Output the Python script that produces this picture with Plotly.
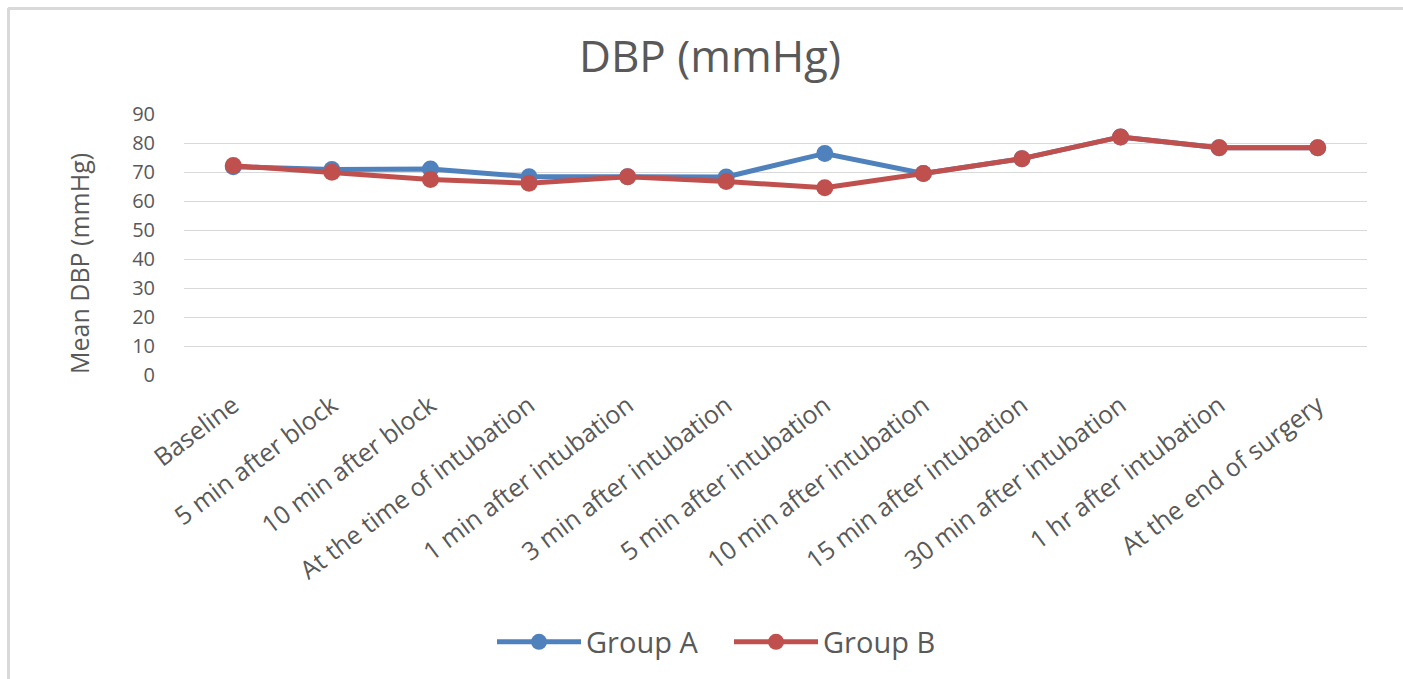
import plotly.graph_objects as go

# Time points of the measurement
time_points = [
    "Baseline",
    "5 min after block",
    "10 min after block",
    "At the time of intubation",
    "1 min after intubation",
    "3 min after intubation",
    "5 min after intubation",
    "10 min after intubation",
    "15 min after intubation",
    "30 min after intubation",
    "1 hr after intubation",
    "At the end of surgery",
]

# Mean diastolic blood pressure (mmHg)
group_a = [71.8, 70.9, 71.0, 68.4, 68.4, 68.3, 76.4, 69.5, 74.6, 82.1, 78.4, 78.4]
group_b = [72.2, 69.9, 67.4, 66.1, 68.4, 66.7, 64.6, 69.5, 74.6, 82.1, 78.4, 78.4]

y_ticks = [0, 10, 20, 30, 40, 50, 60, 70, 80, 90]

FONT = "Open Sans"
GREY = "#595959"
BLUE = "#4F81BD"
RED = "#C0504D"

W, H = 1403, 679
ML, MR, MT, MB = 184, 36, 114, 304
PW, PH = W - ML - MR, H - MT - MB

fig = go.Figure()
for name, vals, col in [("Group A", group_a, BLUE), ("Group B", group_b, RED)]:
    fig.add_trace(go.Scatter(
        x=time_points, y=vals, name=name, mode="lines+markers",
        line=dict(color=col, width=5),
        marker=dict(color=col, size=17),
    ))


def px_x(p):
    return (p - ML) / PW


def px_y(p):
    return (H - MB - p) / PH


# light frame along the top and left edges
frame = dict(color="#d9d9d9", width=3)
fig.add_shape(type="line", xref="paper", yref="paper",
              x0=px_x(8), x1=px_x(1403), y0=px_y(8.5), y1=px_y(8.5), line=frame)
fig.add_shape(type="line", xref="paper", yref="paper",
              x0=px_x(8.5), x1=px_x(8.5), y0=px_y(8), y1=px_y(679), line=frame)

# y-axis title, placed a little below the plot's middle
fig.add_annotation(
    text="Mean DBP (mmHg)", textangle=-90, showarrow=False,
    xref="paper", yref="paper", x=px_x(79), y=px_y(264),
    xanchor="center", yanchor="middle",
    font=dict(size=25, color=GREY, family=FONT),
)

fig.update_layout(
    width=W, height=H,
    margin=dict(l=ML, r=MR, t=MT, b=MB, autoexpand=False),
    paper_bgcolor="white", plot_bgcolor="white",
    font=dict(family=FONT, color=GREY),
    title=dict(text="DBP (mmHg)", x=710 / W, xanchor="center",
               y=1 - 57 / H, yanchor="middle",
               font=dict(size=44, color=GREY, family=FONT)),
    xaxis=dict(
        type="category", range=[-0.5, 11.5],
        tickangle=-37, tickfont=dict(size=25, color=GREY),
        showgrid=False, showline=False, zeroline=False, ticks="",
        ticklabelstandoff=10,
    ),
    yaxis=dict(
        range=[0, 90], tickvals=y_ticks, tickfont=dict(size=20, color=GREY),
        showgrid=True, gridcolor="#d9d9d9", gridwidth=1.2,
        zeroline=False, showline=False, ticks="", ticklabelstandoff=28,
    ),
    legend=dict(
        orientation="h", x=729 / W, xref="container",
        xanchor="center", y=1 - 642 / H, yref="container", yanchor="middle",
        font=dict(size=29, color=GREY), itemwidth=84,
        entrywidth=138, entrywidthmode="pixels",
    ),
    showlegend=True,
)

fig.write_html("out.html")
